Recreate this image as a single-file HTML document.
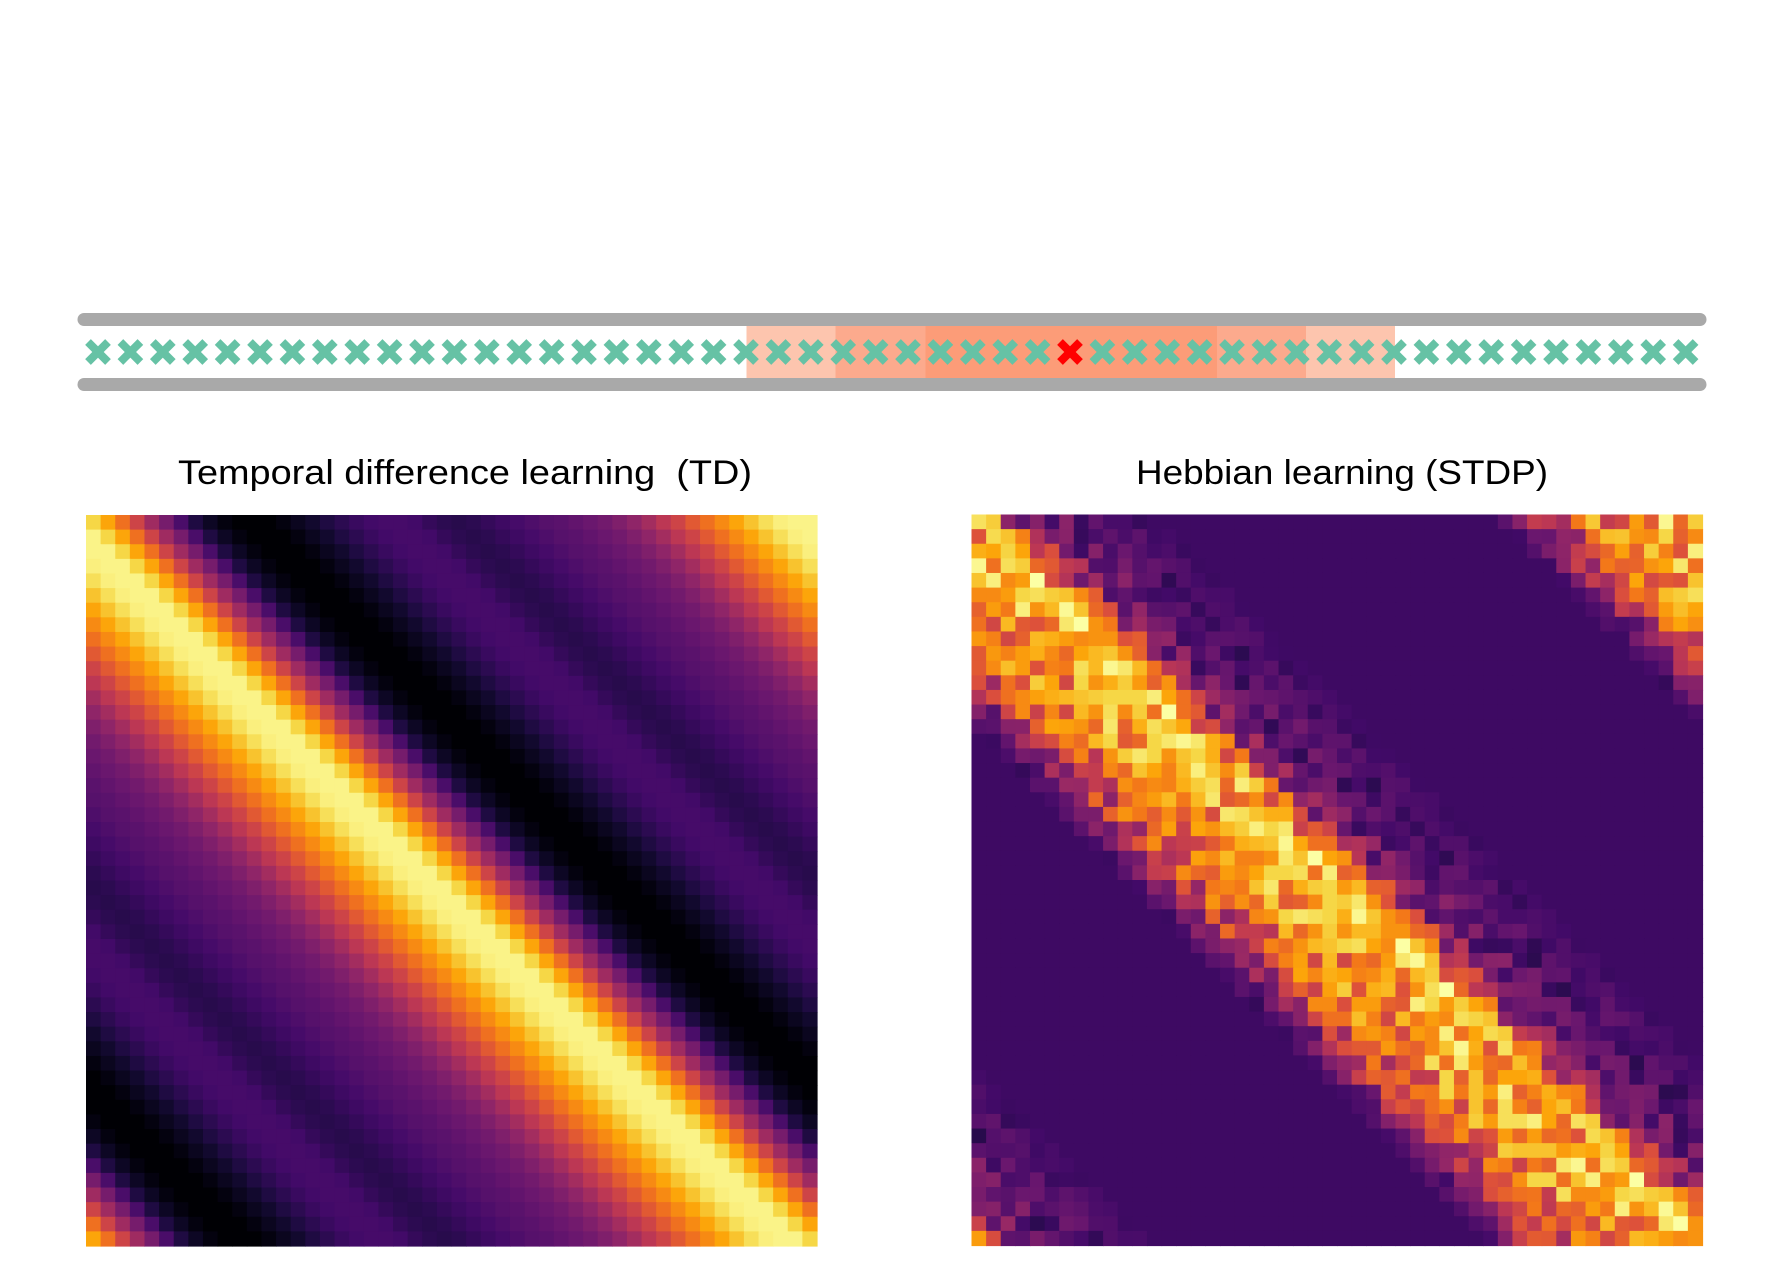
<!DOCTYPE html>
<html><head><meta charset="utf-8"><style>
html,body{margin:0;padding:0;background:#fff;}
svg{display:block;}
text{font-family:"Liberation Sans",sans-serif;fill:#000;}
</style></head><body>
<svg id="fig" width="1787" height="1279" viewBox="0 0 1787 1279" xmlns="http://www.w3.org/2000/svg">
<g id="track">
<rect x="746.5" y="326" width="89" height="52" fill="#fdc5ae"/>
<rect x="835.5" y="326" width="90" height="52" fill="#fcaa8d"/>
<rect x="925.5" y="326" width="291.5" height="52" fill="#fc9c78"/>
<rect x="1217" y="326" width="89" height="52" fill="#fcaa8d"/>
<rect x="1306" y="326" width="89" height="52" fill="#fdc5ae"/>
<line x1="84" y1="319.5" x2="1700" y2="319.5" stroke="#a9a9a9" stroke-width="13" stroke-linecap="round"/>
<line x1="84" y1="384.5" x2="1700" y2="384.5" stroke="#a9a9a9" stroke-width="13" stroke-linecap="round"/>
<g id="crosses"></g>
</g>
<text x="465" y="484" font-size="34" text-anchor="middle" textLength="574" lengthAdjust="spacingAndGlyphs">Temporal difference learning&#160; (TD)</text>
<text x="1342" y="484" font-size="34" text-anchor="middle" textLength="412" lengthAdjust="spacingAndGlyphs">Hebbian learning (STDP)</text>
<g id="tdmap"></g>
<g id="hebbmap"></g>
</svg>
<script>
// ---- data ----
const nCells = 50;
const activeCell = 30;
// TD successor profile by offset d = col - row (index d+25, d = -25..24)
const tdProfile = [
0.14,0.15,0.17,0.19,0.21,0.23,0.25,0.26,0.28,0.30,0.32,0.35,0.39,0.44,0.50,0.55,0.62,0.68,0.74,0.80,0.86,0.92,0.96,0.97,0.97,
0.90,0.80,0.68,0.55,0.43,0.33,0.22,0.12,0.06,0.02,0.00,0.00,0.00,0.02,0.05,0.08,0.12,0.15,0.18,0.20,0.21,0.21,0.20,0.17,0.15
];
// Hebbian profile by offset d = col - row (index d+25)
const hebbProfile = [
0.19,0.19,0.19,0.19,0.19,0.19,0.19,0.19,0.19,0.19,0.19,0.22,0.30,0.40,0.50,0.58,0.64,0.69,0.72,0.74,0.76,0.78,0.80,0.80,0.80,
0.88,0.70,0.58,0.45,0.35,0.30,0.27,0.25,0.24,0.23,0.22,0.21,0.20,0.19,0.19,0.19,0.19,0.19,0.19,0.19,0.19,0.19,0.19,0.19,0.19
];
// Hebbian fluctuation amplitude by offset (index d+25)
const hebbAmp = [
0,0,0,0,0,0,0,0,0,0,0,0.05,0.10,0.15,0.18,0.2,0.2,0.2,0.2,0.2,0.2,0.2,0.2,0.2,0.2,
0.15,0.2,0.2,0.2,0.15,0.12,0.12,0.1,0.1,0.08,0.06,0.04,0.02,0,0,0,0,0,0,0,0,0,0,0,0
];
// hand-entered fluctuation values for the Hebbian map
const hebbJitter = [0.3,-0.6,0.8,-0.1,0.5,-0.9,0.2,0.7,-0.4,0.0,0.9,-0.3,-0.7,0.4,0.1,-0.2,0.6,-1.0,0.3,0.8,-0.5,0.2,-0.8,0.5,0.0,0.7,-0.3,0.4,-0.6,0.9,-0.1,0.2,-0.9,0.6,0.1,-0.4,0.8,-0.2,0.3,-0.7,0.5];
// inferno colour stops
const infernoStops = ["#000004","#160b39","#420a68","#6a176e","#932667","#bc3754","#dd513a","#f37819","#fca50a","#f6d746","#fcffa4"];

function hex2rgb(h){return [parseInt(h.substr(1,2),16),parseInt(h.substr(3,2),16),parseInt(h.substr(5,2),16)];}
function inferno(v){
  v=Math.max(0,Math.min(1,v));
  const p=v*10, i=Math.min(9,Math.floor(p)), t=p-i;
  const a=hex2rgb(infernoStops[i]), b=hex2rgb(infernoStops[i+1]);
  return "rgb("+a.map((x,k)=>Math.round(x+(b[k]-x)*t)).join(",")+")";
}
function wrapD(r,c){let d=c-r;while(d<-25)d+=50;while(d>24)d-=50;return d;}

const NS="http://www.w3.org/2000/svg";
// crosses
const cx0=98, cstep=32.4, cy=352, hs=10;
const cg=document.getElementById('crosses');
for(let k=0;k<nCells;k++){
  const x=cx0+k*cstep;
  const g=document.createElementNS(NS,'g');
  
  
  const col=k===activeCell?'#ff0000':'#66c2a5';
  [[x-hs,cy-hs,x+hs,cy+hs],[x-hs,cy+hs,x+hs,cy-hs]].forEach(l=>{
    const ln=document.createElementNS(NS,'line');
    ln.setAttribute('x1',l[0]);ln.setAttribute('y1',l[1]);ln.setAttribute('x2',l[2]);ln.setAttribute('y2',l[3]);
    ln.setAttribute('stroke',col);ln.setAttribute('stroke-width','8');
    g.appendChild(ln);
  });
  cg.appendChild(g);
}

function drawMap(gid,x0,y0,size,valFn,name){
  const g=document.getElementById(gid), cs=size/nCells;
  for(let r=0;r<nCells;r++)for(let c=0;c<nCells;c++){
    const rc=document.createElementNS(NS,'rect');
    rc.setAttribute('x',(x0+c*cs).toFixed(2));
    rc.setAttribute('y',(y0+r*cs).toFixed(2));
    rc.setAttribute('width',(cs+0.6).toFixed(2));
    rc.setAttribute('height',(cs+0.6).toFixed(2));
    rc.setAttribute('fill',inferno(valFn(r,c)));
    
    
    g.appendChild(rc);
  }
}
drawMap('tdmap',86,515,731,(r,c)=>tdProfile[wrapD(r,c)+25],'td-cell');
drawMap('hebbmap',971.5,514.5,731,(r,c)=>{
  const d=wrapD(r,c), base=hebbProfile[d+25];
  const j=hebbJitter[(r*17+c*29+r*c)%hebbJitter.length];
  return base+hebbAmp[d+25]*j;
},'stdp-cell');
</script>
</body></html>
